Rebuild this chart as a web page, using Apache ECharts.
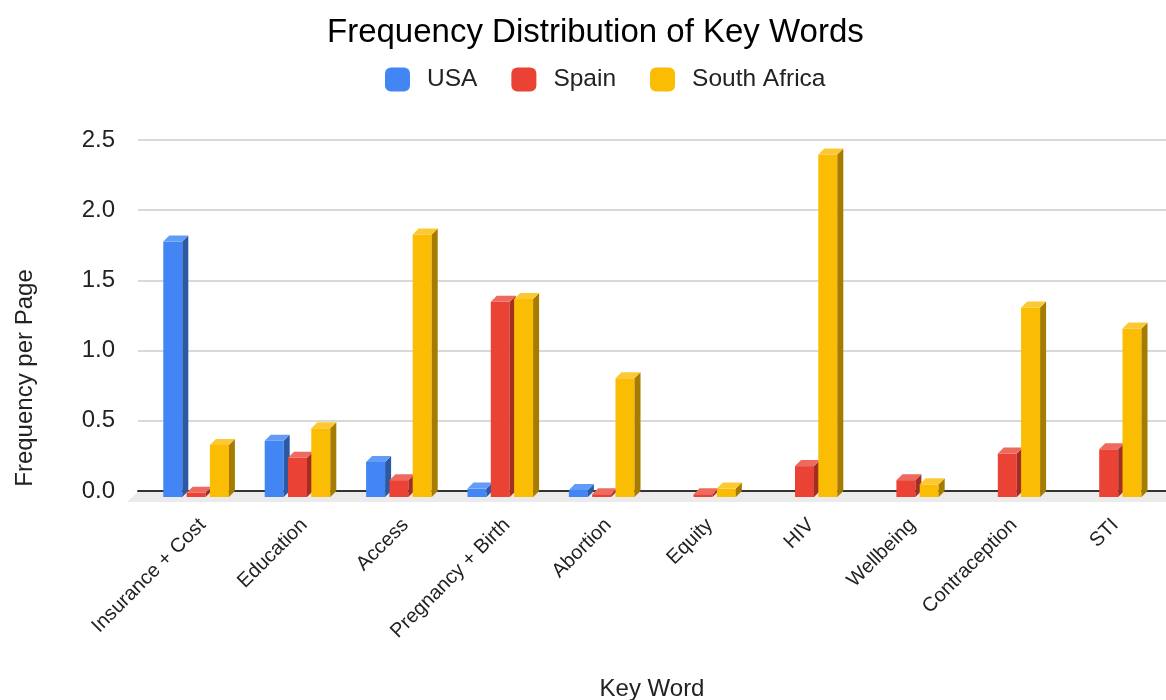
<!DOCTYPE html>
<html>
<head>
<meta charset="utf-8">
<title>Frequency Distribution of Key Words</title>
<script src="https://cdn.jsdelivr.net/npm/echarts@6/dist/echarts.min.js"></script>
<style>
  html, body { margin: 0; padding: 0; background: #fff; }
  #chart { width: 1166px; height: 700px; }
</style>
</head>
<body>
<div id="chart"></div>
<script>
const categories = ['Insurance + Cost', 'Education', 'Access', 'Pregnancy + Birth', 'Abortion', 'Equity', 'HIV', 'Wellbeing', 'Contraception', 'STI']
const usa = [1.82, 0.40, 0.25, 0.06, 0.05, 0, 0, 0, 0, 0]
const spain = [0.03, 0.28, 0.12, 1.39, 0.02, 0.02, 0.22, 0.12, 0.31, 0.34]
const southAfrica = [0.37, 0.49, 1.87, 1.41, 0.845, 0.06, 2.44, 0.09, 1.35, 1.20]
const yTicks = [0, 0.5, 1.0, 1.5, 2.0, 2.5]

const FONT = '"Liberation Sans", Arial, sans-serif'
const DEPTH = 6

// front / side / top shades for the fake 3D bars
const palette = {
  USA: ['#4285f4', '#2b59a3', '#629cf6'],
  Spain: ['#ea4335', '#a22d24', '#ee6a5e'],
  'South Africa': ['#fbbc04', '#a67c00', '#fcc934'],
}

// offset of the bar's front face from the category centre (px at 101.4px per category)
function bar3d(offset, shades) {
  return (params, api) => {
    const v = api.value(1)
    if (!v) return null
    const base = api.coord([api.value(0), 0])
    const top = api.coord([api.value(0), v])
    const k = api.size([1, 0])[0] / 101.4
    const x = base[0] + offset * k
    const w = 19 * k
    const y0 = base[1] + DEPTH
    const y1 = top[1] + DEPTH
    return {
      type: 'group',
      children: [
        { type: 'rect', shape: { x: x, y: y1, width: w, height: y0 - y1 }, style: { fill: shades[0] } },
        { type: 'polygon', shape: { points: [[x + w, y1], [x + w + DEPTH, y1 - DEPTH], [x + w + DEPTH, y0 - DEPTH], [x + w, y0]] }, style: { fill: shades[1] } },
        { type: 'polygon', shape: { points: [[x, y1], [x + DEPTH, y1 - DEPTH], [x + w + DEPTH, y1 - DEPTH], [x + w, y1]] }, style: { fill: shades[2] } },
      ],
    }
  }
}

function barSeries(name, values, offset) {
  return {
    name: name,
    type: 'custom',
    xAxisIndex: 1,
    yAxisIndex: 1,
    z: 3,
    itemStyle: { color: palette[name][0] },
    encode: { x: 0, y: 1 },
    data: values.map((v, i) => [i, v]),
    renderItem: bar3d(offset, palette[name]),
  }
}

const chart = echarts.init(document.getElementById('chart'))

chart.setOption({
  backgroundColor: '#fff',
  animation: false,
  title: {
    text: 'Frequency Distribution of Key Words',
    left: 322,
    top: 11,
    textStyle: { fontFamily: FONT, fontSize: 33, fontWeight: 'normal', color: '#000' },
  },
  legend: {
    left: 380,
    top: 62,
    icon: 'roundRect',
    itemWidth: 25,
    itemHeight: 24,
    itemGap: 34,
    textStyle: { fontFamily: FONT, fontSize: 24.5, color: '#222', padding: [0, 0, 0, 12] },
    data: ['USA', 'Spain', 'South Africa'],
  },
  grid: [
    { left: 138, right: 0, top: 140, bottom: 209, outerBoundsMode: 'none' },
    { left: 152, right: 0, top: 140, bottom: 209, outerBoundsMode: 'none' },
  ],
  xAxis: [
    {
      gridIndex: 0,
      type: 'category',
      data: categories,
      axisLine: { lineStyle: { color: '#333', width: 2 } },
      axisTick: { show: false },
      axisLabel: { show: false },
      name: 'Key Word',
      nameLocation: 'middle',
      nameGap: 186,
      nameTextStyle: { fontFamily: FONT, fontSize: 24, color: '#222' },
    },
    {
      gridIndex: 1,
      type: 'category',
      data: categories,
      axisLine: { show: false },
      axisTick: { show: false },
      axisLabel: {
        rotate: 45,
        margin: 31,
        interval: 0,
        fontFamily: FONT,
        fontSize: 20,
        color: '#222',
      },
    },
  ],
  yAxis: [
    {
      gridIndex: 0,
      type: 'value',
      min: yTicks[0],
      max: yTicks[yTicks.length - 1],
      interval: 0.5,
      axisLine: { show: false },
      axisTick: { show: false },
      axisLabel: {
        margin: 23,
        fontFamily: FONT,
        fontSize: 24,
        color: '#222',
        formatter: v => v.toFixed(1),
      },
      splitLine: { lineStyle: { color: '#cccccc', width: 1.5 } },
    },
    {
      gridIndex: 1,
      type: 'value',
      show: false,
      min: yTicks[0],
      max: yTicks[yTicks.length - 1],
      interval: 0.5,
    },
  ],
  graphic: [
    {
      type: 'text',
      x: 25,
      y: 378,
      rotation: Math.PI / 2,
      style: {
        text: 'Frequency per Page',
        fontFamily: FONT,
        fontSize: 24,
        fill: '#222',
        align: 'center',
        verticalAlign: 'middle',
      },
    },
  ],
  series: [
    {
      // grey floor under the zero line
      type: 'custom',
      xAxisIndex: 0,
      yAxisIndex: 0,
      z: 1,
      silent: true,
      data: [[0, 0]],
      renderItem: (params) => {
        const cs = params.coordSys
        const yb = cs.y + cs.height
        return {
          type: 'polygon',
          shape: { points: [[cs.x, yb + 1], [cs.x + cs.width, yb + 1], [cs.x + cs.width, yb + 11], [cs.x - 11, yb + 11]] },
          style: { fill: '#ebebeb' },
        }
      },
    },
    barSeries('USA', usa, -39.4),
    barSeries('Spain', spain, -16.1),
    barSeries('South Africa', southAfrica, 7.2),
  ],
})
</script>
</body>
</html>
